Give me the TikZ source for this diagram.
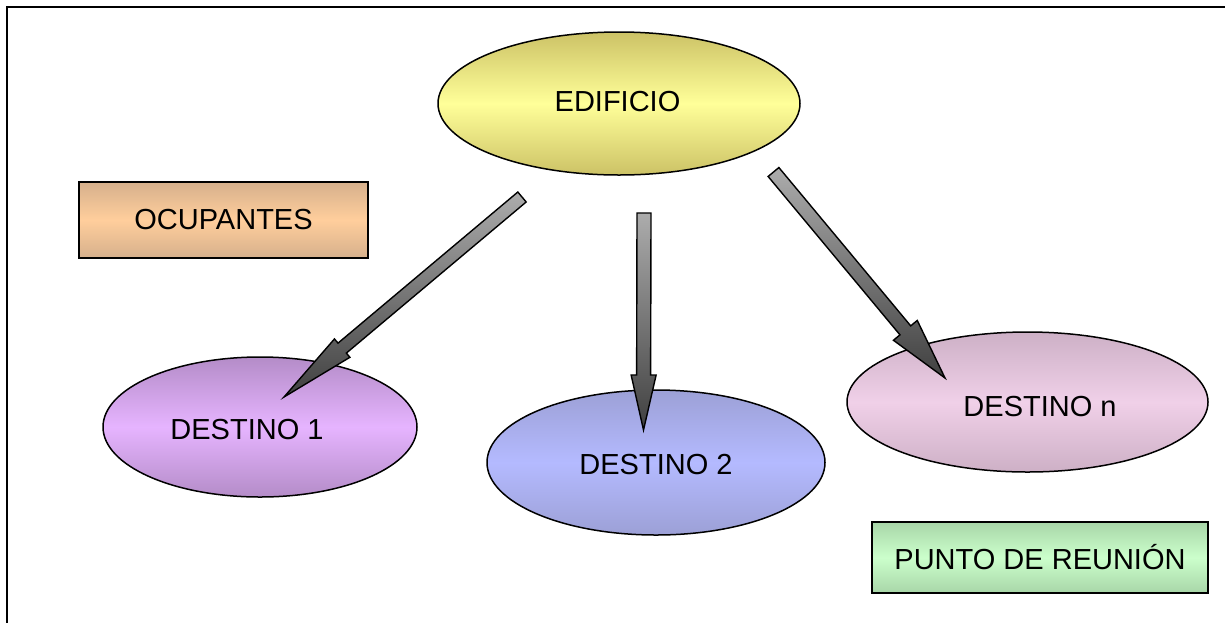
\documentclass[tikz,border=0pt]{standalone}
\usepackage{fontspec}
\setmainfont{Liberation Sans}
\usetikzlibrary{shapes.geometric,calc}
\definecolor{edEdge}{RGB}{204,194,102}
\definecolor{edMid}{RGB}{255,255,153}
\definecolor{ocEdge}{RGB}{214,176,140}
\definecolor{ocMid}{RGB}{255,206,156}
\definecolor{daEdge}{RGB}{180,140,200}
\definecolor{daMid}{RGB}{230,180,255}
\definecolor{dbEdge}{RGB}{156,160,214}
\definecolor{dbMid}{RGB}{180,186,255}
\definecolor{dnEdge}{RGB}{205,176,198}
\definecolor{dnMid}{RGB}{240,208,232}
\definecolor{puEdge}{RGB}{168,214,168}
\definecolor{puMid}{RGB}{204,255,204}
\definecolor{arrLight}{RGB}{172,172,172}
\definecolor{arrDark}{RGB}{64,64,64}
\tikzset{
  shp/.style={draw=black, line width=1.5pt, inner sep=0pt},
  oval/.style={shp, ellipse},
  boxx/.style={shp, rectangle},
  lbl/.style={font=\fontsize{29}{35}\selectfont, inner sep=0pt},
  blockarrow/.style={draw=black, line width=1.4pt, line join=miter,
    top color=arrLight, bottom color=arrDark},
}
% #1 name, #2 tail, #3 tip, #4 shaft half width, #5 head half width, #6 head length
\newcommand\bkarrow[6]{%
  \coordinate (#1h) at ($(#3)!#6!(#2)$);
  \path[blockarrow]
    ($(#2)!#4!90:(#3)$) -- ($(#1h)!#4!90:(#3)$) -- ($(#1h)!#5!90:(#3)$) --
    (#3) --
    ($(#1h)!#5!-90:(#3)$) -- ($(#1h)!#4!-90:(#3)$) -- ($(#2)!#4!-90:(#3)$) -- cycle;
}
\begin{document}
\begin{tikzpicture}[x=1pt,y=-1pt]
\useasboundingbox (0,0) rectangle (1225,622);
% frame
\draw[line width=2pt] (7,630) -- (7,7) -- (1230,7);

% nodes
\node[oval, minimum width=362, minimum height=143,
      top color=edEdge, bottom color=edEdge, middle color=edMid] (edif) at (619,103.5) {};
\node[lbl] (edift) at (617.5,102) {EDIFICIO};

\node[boxx, minimum width=289, minimum height=76,
      top color=ocEdge, bottom color=ocEdge, middle color=ocMid, lbl] (ocup) at (223.5,220) {OCUPANTES};

\node[oval, minimum width=314, minimum height=140,
      top color=daEdge, bottom color=daEdge, middle color=daMid] (d1) at (260,427) {};
\node[lbl] (d1t) at (247,430) {DESTINO 1};

\node[oval, minimum width=338, minimum height=145,
      top color=dbEdge, bottom color=dbEdge, middle color=dbMid] (d2) at (656,462.5) {};
\node[lbl] (d2t) at (656,465) {DESTINO 2};

\node[oval, minimum width=361, minimum height=140,
      top color=dnEdge, bottom color=dnEdge, middle color=dnMid] (dn) at (1027.5,402) {};
\node[lbl] (dnt) at (1040,407) {DESTINO n};

\node[boxx, minimum width=336, minimum height=71,
      top color=puEdge, bottom color=puEdge, middle color=puMid, lbl] (punto) at (1040,557.5) {PUNTO DE REUNIÓN};

% arrows
\coordinate (t1) at (522,197);
\coordinate (p1) at (284,397);
\coordinate (t2) at (644,213);
\coordinate (p2) at (643.5,430);
\coordinate (t3) at (773.5,172);
\coordinate (p3) at (945,378);
\bkarrow{a1}{t1}{p1}{6.5pt}{12pt}{76pt}
\bkarrow{a2}{t2}{p2}{7pt}{12.5pt}{55pt}
\bkarrow{a3}{t3}{p3}{7pt}{15.5pt}{62pt}
\end{tikzpicture}
\end{document}
